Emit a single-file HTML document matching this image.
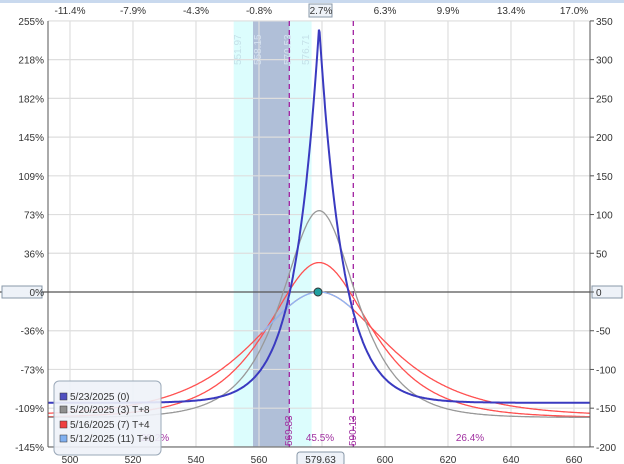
<!DOCTYPE html>
<html><head><meta charset="utf-8"><style>
body{margin:0;background:#fff;}
svg{display:block;font-family:"Liberation Sans",sans-serif;}
</style></head><body>
<svg id="s" width="624" height="464" viewBox="0 0 624 464">
<rect x="0" y="0" width="624" height="3" fill="#c9d9ee"/>
<rect x="233.7" y="21" width="77.9" height="426" fill="#dcfdfd"/>
<rect x="253" y="21" width="36.5" height="426" fill="#b0bfd8"/>
<g id="grid" stroke="#dedede" stroke-width="1.2"></g>
<g font-size="10" fill="#c4e0e8">
<text transform="translate(241,65) rotate(-90)">551.97</text>
<text transform="translate(261,65) rotate(-90)" fill="#d6e2f0">558.15</text>
<text transform="translate(291,65) rotate(-90)" fill="#d6e2f0">570.53</text>
<text transform="translate(309,65) rotate(-90)">576.71</text>
</g>
<line x1="289.3" y1="21" x2="289.3" y2="447" stroke="#a020a0" stroke-dasharray="5,4" stroke-width="1.3"/>
<line x1="353.3" y1="21" x2="353.3" y2="447" stroke="#a020a0" stroke-dasharray="5,4" stroke-width="1.3"/>
<line x1="0" y1="292" x2="590" y2="292" stroke="#555" stroke-width="1.3"/>
<g id="curves" fill="none" stroke-width="1.3"></g>
<circle cx="318" cy="292" r="4" fill="#20a0a0" stroke="#333" stroke-width="1"/>
<line x1="48" y1="21" x2="48" y2="447" stroke="#555"/>
<line x1="590" y1="21" x2="590" y2="447" stroke="#555"/>
<line x1="48" y1="447" x2="590" y2="447" stroke="#555"/>
<rect x="309" y="4" width="23" height="13" fill="#eef2f8" stroke="#8898a8"/>
<rect x="2" y="286" width="40" height="12" fill="#eef2f8" stroke="#8898a8"/>
<rect x="592" y="286" width="30" height="12" fill="#eef2f8" stroke="#8898a8"/>
<g id="lab" font-size="10" fill="#333"></g>
<g font-size="10" fill="#a030a0">
<text x="155" y="441" text-anchor="middle">28.2%</text>
<text x="320" y="441" text-anchor="middle">45.5%</text>
<text x="470" y="441" text-anchor="middle">26.4%</text>
<text transform="translate(292,446) rotate(-90)">569.83</text>
<text transform="translate(356,446) rotate(-90)">590.13</text>
</g>
<rect x="54" y="381" width="107" height="74" rx="5" fill="#eef2f8" fill-opacity="0.9" stroke="#9aa8b8"/>
<g font-size="10" fill="#333">
<rect x="60" y="393" width="7" height="7" fill="#5050c0" stroke="#333" stroke-width=".5"/><text x="70" y="400">5/23/2025 (0)</text>
<rect x="60" y="406" width="7" height="7" fill="#909090" stroke="#333" stroke-width=".5"/><text x="70" y="413">5/20/2025 (3) T+8</text>
<rect x="60" y="421" width="7" height="7" fill="#f04040" stroke="#333" stroke-width=".5"/><text x="70" y="428">5/16/2025 (7) T+4</text>
<rect x="60" y="435" width="7" height="7" fill="#80b0f0" stroke="#333" stroke-width=".5"/><text x="70" y="442">5/12/2025 (11) T+0</text>
</g>
<rect x="297" y="452" width="47" height="14" rx="3" fill="#eef2f8" stroke="#8898a8"/>
<text x="320.5" y="463" font-size="10" text-anchor="middle" fill="#333">579.63</text>
</svg>
<script>
const NS="http://www.w3.org/2000/svg";
function el(t,a,p,txt){const e=document.createElementNS(NS,t);for(const k in a)e.setAttribute(k,a[k]);if(txt!=null)e.textContent=txt;p.appendChild(e);return e;}
const g=document.getElementById('grid'),lab=document.getElementById('lab'),cv=document.getElementById('curves');
const X=v=>70+(v-500)*3.15, Y=v=>292-v*0.7745;
const tops=["-11.4%","-7.9%","-4.3%","-0.8%","2.7%","6.3%","9.9%","13.4%","17.0%"];
for(let i=0;i<9;i++){const v=500+i*20,x=X(v);
 el('line',{x1:x,y1:21,x2:x,y2:447},g);
 el('text',{x:x,y:463,'text-anchor':'middle'},lab,v===580?"":String(v));
 el('text',{x:x+(i==4?-1:0),y:14,'text-anchor':'middle'},lab,tops[i]);}
const lefts=["255%","218%","182%","145%","109%","73%","36%","0%","-36%","-73%","-109%","-145%"];
for(let i=0;i<12;i++){const v=350-i*50,y=Y(v);
 if(v!==0)el('line',{x1:48,y1:y,x2:590,y2:y},g);
 el('text',{x:44,y:y+4,'text-anchor':'end'},lab,lefts[i]);
 el('line',{x1:590,y1:y,x2:594,y2:y,stroke:'#555'},lab);
 el('text',{x:596,y:y+4},lab,String(v));}
const c=579.1;
function path(f,col,w,a,b){a=a||493;b=b||665;let d="";for(let v=a;v<=b;v+=0.25){const x=X(v),y=Y(f(v-c));d+=(d?"L":"M")+x.toFixed(1)+","+y.toFixed(1);}el('path',{d:d,stroke:col,'stroke-width':w||1.3},cv);}
const sech=x=>1/Math.cosh(x);
path(d=>-160+160*sech(d/19),'#ff5050');
path(d=>-162+200*sech(d/14.5),'#ff5050');
path(d=>-162+267*sech(d/10.5),'#999');
path(d=>-160+160*sech(d/19),'#8ab8f8',1.3,c-18,c+10);
path(d=>-143+488*Math.exp(-Math.abs(d)/7.6),'#3a3ac0',2);
</script>
</body></html>
